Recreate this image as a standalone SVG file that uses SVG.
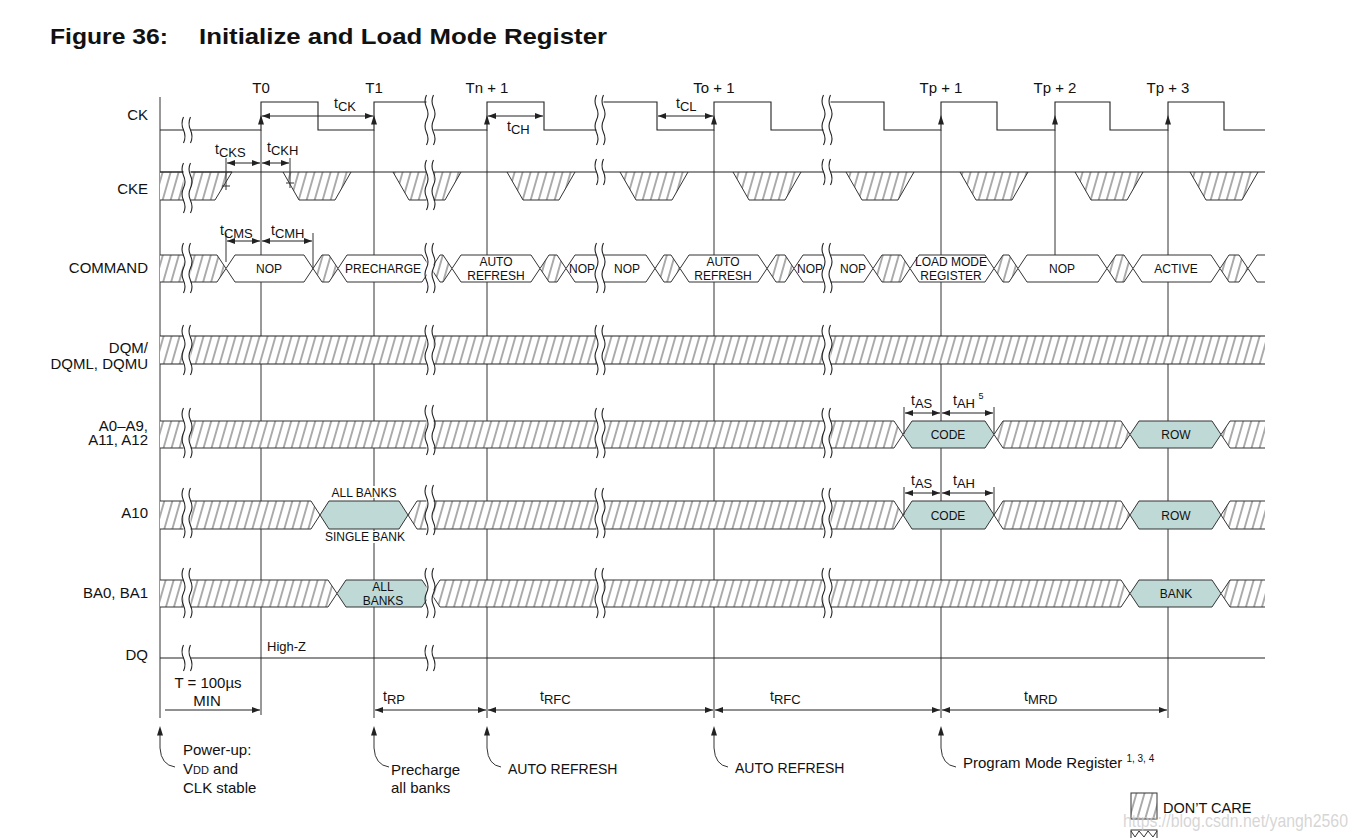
<svg xmlns="http://www.w3.org/2000/svg" width="1357" height="838" viewBox="0 0 1357 838">
<style>
text{font-family:"Liberation Sans",Arial,sans-serif;fill:#111}
.lbl{font-size:15px;text-anchor:end}
.clk{font-size:15px;text-anchor:middle}
.w{stroke:#222;stroke-width:1.1;fill:none}
.v{stroke:#333;stroke-width:1;fill:none}
.hx{fill:url(#h);stroke:#333;stroke-width:1}
.wh{fill:#fff;stroke:#333;stroke-width:1}
.tl{fill:#bfd9d6;stroke:#333;stroke-width:1}
.in{font-size:12px;text-anchor:middle}
.dim{stroke:#222;stroke-width:1;fill:none;marker-start:url(#ar);marker-end:url(#ar)}
.dimE{stroke:#222;stroke-width:1;fill:none;marker-end:url(#ar)}
.tm{font-size:14px}
.sb{font-size:13px}
.ann{font-size:15px}
.cap{font-size:14px}
</style>
<defs>
<pattern id="h" patternUnits="userSpaceOnUse" width="8" height="8" patternTransform="skewX(-16)">
<rect width="8" height="8" fill="#fff"/>
<line x1="4" y1="-1" x2="4" y2="9" stroke="#444" stroke-width="0.9"/>
</pattern>
<marker id="ar" viewBox="0 0 8 6" refX="8" refY="3" markerWidth="8" markerHeight="6" markerUnits="userSpaceOnUse" orient="auto-start-reverse">
<path d="M0,0 L8,3 L0,6 Z" fill="#222"/>
</marker>
<path id="up" d="M-3,9.5 L0,0 L3,9.5 Z" fill="#222"/>
<g id="b50"><rect x="-3.5" y="-25" width="7" height="50" fill="#fff"/><path d="M-3.5,-25 q-3,6.25 0,12.5 t0,12.5 t0,12.5 t0,12.5 M3.5,-25 q-3,6.25 0,12.5 t0,12.5 t0,12.5 t0,12.5" fill="none" stroke="#222" stroke-width="1.1"/></g>
<g id="b26"><rect x="-3.5" y="-13" width="7" height="26" fill="#fff"/><path d="M-3.5,-13 q-3,6.5 0,13 t0,13 M3.5,-13 q-3,6.5 0,13 t0,13" fill="none" stroke="#222" stroke-width="1.1"/></g>
</defs>

<rect width="1357" height="838" fill="#fff"/>

<g id="title">
<text x="50" y="44" font-size="22" font-weight="bold" textLength="118" lengthAdjust="spacingAndGlyphs">Figure 36:</text>
<text x="199" y="44" font-size="22" font-weight="bold" textLength="408" lengthAdjust="spacingAndGlyphs">Initialize and Load Mode Register</text>
</g>

<g id="gridlines" class="v">
<path d="M160,97 V718 M261,130 V715 M374,130 V718 M487,130 V718 M714,130 V718 M941,130 V718 M1055,130 V255 M1168,130 V718"/>
</g>

<g id="signal-labels">
<text class="lbl" x="148" y="119.5">CK</text>
<text class="lbl" x="148" y="193.5">CKE</text>
<text class="lbl" x="148" y="272.5">COMMAND</text>
<text class="lbl" x="148" y="352.5">DQM/</text>
<text class="lbl" x="148" y="369">DQML, DQMU</text>
<text class="lbl" x="148" y="430.5">A0–A9,</text>
<text class="lbl" x="148" y="445">A11, A12</text>
<text class="lbl" x="148" y="517.5">A10</text>
<text class="lbl" x="148" y="598">BA0, BA1</text>
<text class="lbl" x="148" y="659.5">DQ</text>
</g>

<g id="clock-labels">
<text class="clk" x="261" y="93">T0</text>
<text class="clk" x="374" y="93">T1</text>
<text class="clk" x="487" y="93">Tn + 1</text>
<text class="clk" x="714" y="93">To + 1</text>
<text class="clk" x="941" y="93">Tp + 1</text>
<text class="clk" x="1055" y="93">Tp + 2</text>
<text class="clk" x="1168" y="93">Tp + 3</text>
</g>

<g id="sig-ck">
<path class="w" d="M160,130 H261 V102 H318 V130 H374 V102 H431 M431,130 H487 V102 H544 V130 H600 M600,102 H657 V130 H714 V102 H771 V130 H827 M827,102 H884 V130 H941 V102 H997 V130 H1055 V102 H1110 V130 H1168 V102 H1224 V130 H1265"/>
<use href="#up" x="261" y="115"/>
<use href="#up" x="374" y="115"/>
<use href="#up" x="487" y="115"/>
<use href="#up" x="714" y="115"/>
<use href="#up" x="941" y="115"/>
<use href="#up" x="1055" y="115"/>
<use href="#up" x="1168" y="115"/>
</g>

<g id="sig-cke">
<path class="hx" d="M160,200 H215 L232,172 H160"/>
<path class="hx" d="M283,172 L299,200 H335 L351,172"/>
<path class="hx" d="M393,172 L409,200 H445 L461,172"/>
<path class="hx" d="M507,172 L523,200 H559 L575,172"/>
<path class="hx" d="M620,172 L636,200 H672 L688,172"/>
<path class="hx" d="M733,172 L749,200 H785 L801,172"/>
<path class="hx" d="M846,172 L862,200 H898 L914,172"/>
<path class="hx" d="M960,172 L976,200 H1012 L1028,172"/>
<path class="hx" d="M1075,172 L1091,200 H1127 L1143,172"/>
<path class="hx" d="M1190,172 L1206,200 H1242 L1258,172"/>
<path class="w" d="M160,172 H1265"/>
</g>

<g id="sig-command">
<path class="hx" d="M160,255 H217 L226,268.5 L217,282 H160"/>
<path class="wh" d="M226,268.5 L235,255 H304 L313,268.5 L304,282 H235 Z"/>
<path class="hx" d="M313,268.5 L322,255 H329 L338,268.5 L329,282 H322 Z"/>
<path class="wh" d="M338,268.5 L347,255 H422 L431,268.5 L422,282 H347 Z"/>
<path class="hx" d="M431,268.5 L440,255 H443 L452,268.5 L443,282 H440 Z"/>
<path class="wh" d="M452,268.5 L461,255 H531 L540,268.5 L531,282 H461 Z"/>
<path class="hx" d="M540,268.5 L549,255 H557 L566,268.5 L557,282 H549 Z"/>
<path class="wh" d="M566,268.5 L575,255 H646 L655,268.5 L646,282 H575 Z"/>
<path class="hx" d="M655,268.5 L664,255 H671 L680,268.5 L671,282 H664 Z"/>
<path class="wh" d="M680,268.5 L689,255 H758 L767,268.5 L758,282 H689 Z"/>
<path class="hx" d="M767,268.5 L776,255 H785 L794,268.5 L785,282 H776 Z"/>
<path class="wh" d="M794,268.5 L803,255 H864 L873,268.5 L864,282 H803 Z"/>
<path class="hx" d="M873,268.5 L882,255 H901 L910,268.5 L901,282 H882 Z"/>
<path class="wh" d="M910,268.5 L919,255 H985 L994,268.5 L985,282 H919 Z"/>
<path class="hx" d="M994,268.5 L1003,255 H1009 L1018,268.5 L1009,282 H1003 Z"/>
<path class="wh" d="M1018,268.5 L1027,255 H1098 L1107,268.5 L1098,282 H1027 Z"/>
<path class="hx" d="M1107,268.5 L1116,255 H1124 L1133,268.5 L1124,282 H1116 Z"/>
<path class="wh" d="M1133,268.5 L1142,255 H1211 L1220,268.5 L1211,282 H1142 Z"/>
<path class="hx" d="M1220,268.5 L1229,255 H1239 L1248,268.5 L1239,282 H1229 Z"/>
<path class="wh" d="M1265,255 H1257 L1248,268.5 L1257,282 H1265"/>
<text class="in" x="269" y="273">NOP</text>
<text class="in" x="383" y="273" font-size="11">PRECHARGE</text>
<text class="in" x="496" y="266">AUTO</text>
<text class="in" x="496" y="279.5">REFRESH</text>
<text class="in" x="582" y="273">NOP</text>
<text class="in" x="627" y="273">NOP</text>
<text class="in" x="723" y="266">AUTO</text>
<text class="in" x="723" y="279.5">REFRESH</text>
<text class="in" x="810" y="273">NOP</text>
<text class="in" x="853" y="273">NOP</text>
<text class="in" x="951" y="266">LOAD MODE</text>
<text class="in" x="951" y="279.5">REGISTER</text>
<text class="in" x="1062" y="273">NOP</text>
<text class="in" x="1176" y="273">ACTIVE</text>
</g>

<g id="sig-dqm">
<rect x="160" y="336" width="1105" height="28" fill="url(#h)"/>
<path class="w" d="M160,336 H1265 M160,364 H1265"/>
</g>

<g id="sig-a0-a9">
<path class="hx" d="M160,421 H894 L903,434.5 L894,448 H160"/>
<path class="tl" d="M903,434.5 L912,421 H985 L994,434.5 L985,448 H912 Z"/>
<path class="hx" d="M994,434.5 L1003,421 H1121 L1130,434.5 L1121,448 H1003 Z"/>
<path class="tl" d="M1130,434.5 L1139,421 H1212 L1221,434.5 L1212,448 H1139 Z"/>
<path class="hx" d="M1265,421 H1230 L1221,434.5 L1230,448 H1265"/>
<text class="in" x="948" y="439">CODE</text>
<text class="in" x="1176" y="439">ROW</text>
</g>

<g id="sig-a10">
<path class="hx" d="M160,501 H311 L320,515 L311,529 H160"/>
<path class="tl" d="M320,515 L329,501 H399 L408,515 L399,529 H329 Z"/>
<path class="hx" d="M408,515 L417,501 H894 L903,515 L894,529 H417 Z"/>
<path class="tl" d="M903,515 L912,501 H985 L994,515 L985,529 H912 Z"/>
<path class="hx" d="M994,515 L1003,501 H1121 L1130,515 L1121,529 H1003 Z"/>
<path class="tl" d="M1130,515 L1139,501 H1212 L1221,515 L1212,529 H1139 Z"/>
<path class="hx" d="M1265,501 H1230 L1221,515 L1230,529 H1265"/>
<rect x="329" y="486" width="68" height="12" fill="#fff"/>
<rect x="322" y="531" width="85" height="12" fill="#fff"/>
<text class="in" x="364" y="496.5">ALL BANKS</text>
<text class="in" x="365" y="540.5">SINGLE BANK</text>
<text class="in" x="948" y="519.5">CODE</text>
<text class="in" x="1176" y="519.5">ROW</text>
</g>

<g id="sig-ba">
<path class="hx" d="M160,580 H328 L337,593.5 L328,607 H160"/>
<path class="tl" d="M337,593.5 L346,580 H422 L431,593.5 L422,607 H346 Z"/>
<path class="hx" d="M431,593.5 L440,580 H1121 L1130,593.5 L1121,607 H440 Z"/>
<path class="tl" d="M1130,593.5 L1139,580 H1212 L1221,593.5 L1212,607 H1139 Z"/>
<path class="hx" d="M1265,580 H1230 L1221,593.5 L1230,607 H1265"/>
<text class="in" x="383" y="591" font-size="11.5">ALL</text>
<text class="in" x="383" y="605" font-size="11.5">BANKS</text>
<text class="in" x="1176" y="598">BANK</text>
</g>

<g id="sig-dq">
<path class="w" d="M160,658 H1265"/>
<text x="267" y="651" font-size="13">High-Z</text>
</g>

<g id="breaks">
<use href="#b26" x="187" y="130"/>
<use href="#b50" x="430" y="120"/>
<use href="#b50" x="600" y="120"/>
<use href="#b50" x="827" y="120"/>
<use href="#b50" x="187" y="188"/>
<use href="#b50" x="430" y="185"/>
<use href="#b26" x="600" y="172"/>
<use href="#b26" x="827" y="172"/>
<use href="#b50" x="187" y="268"/>
<use href="#b50" x="430" y="268"/>
<use href="#b50" x="600" y="268"/>
<use href="#b50" x="827" y="268"/>
<use href="#b50" x="187" y="350"/>
<use href="#b50" x="430" y="350"/>
<use href="#b50" x="600" y="350"/>
<use href="#b50" x="827" y="350"/>
<use href="#b50" x="187" y="433"/>
<use href="#b50" x="430" y="430"/>
<use href="#b50" x="600" y="433"/>
<use href="#b50" x="827" y="433"/>
<use href="#b50" x="187" y="513"/>
<use href="#b50" x="430" y="510"/>
<use href="#b50" x="600" y="513"/>
<use href="#b50" x="827" y="513"/>
<use href="#b50" x="187" y="593"/>
<use href="#b50" x="430" y="593"/>
<use href="#b50" x="600" y="593"/>
<use href="#b50" x="827" y="593"/>
<use href="#b26" x="187" y="658"/>
<use href="#b26" x="430" y="658"/>
</g>

<g id="connectors">
<path class="v" d="M226,158 V190 M222,186 H230 M290,158 V188 M286,183 H294 M226,233 V262 M313,233 V269 M904,407 V434 M994,407 V434 M904,487 V515 M994,487 V515"/>
<path class="dim" d="M262,116 H373"/>
<path class="dim" d="M488,116 H543"/>
<path class="dim" d="M658,116 H713"/>
<path class="dim" d="M227,163 H260"/>
<path class="dim" d="M262,163 H289"/>
<path class="dim" d="M227,241 H260"/>
<path class="dim" d="M262,241 H312"/>
<path class="dim" d="M905,413 H940"/>
<path class="dim" d="M942,413 H993"/>
<path class="dim" d="M905,493 H940"/>
<path class="dim" d="M942,493 H993"/>
<path class="dimE" d="M165,710 H260"/>
<path class="dim" d="M375,710 H486"/>
<path class="dim" d="M488,710 H713"/>
<path class="dim" d="M715,710 H940"/>
<path class="dim" d="M942,710 H1167"/>
<path class="v" d="M160,735 V748 Q161,765 175,767 M374,735 V748 Q375,765 389,767 M487,735 V748 Q488,765 501,767 M714,735 V748 Q715,765 728,767 M941,735 V748 Q942,765 956,767"/>
<use href="#up" x="160" y="726"/>
<use href="#up" x="374" y="726"/>
<use href="#up" x="487" y="726"/>
<use href="#up" x="714" y="726"/>
<use href="#up" x="941" y="726"/>
</g>

<g id="timing-labels">
<text class="tm" x="334" y="108">t<tspan class="sb" dy="3">CK</tspan></text>
<text class="tm" x="507" y="131">t<tspan class="sb" dy="3">CH</tspan></text>
<text class="tm" x="676" y="108">t<tspan class="sb" dy="3">CL</tspan></text>
<text class="tm" x="215" y="154">t<tspan class="sb" dy="3">CKS</tspan></text>
<text class="tm" x="267" y="152">t<tspan class="sb" dy="3">CKH</tspan></text>
<text class="tm" x="220" y="235">t<tspan class="sb" dy="3">CMS</tspan></text>
<text class="tm" x="271" y="235">t<tspan class="sb" dy="3">CMH</tspan></text>
<text class="tm" x="911" y="405">t<tspan class="sb" dy="3">AS</tspan></text>
<text class="tm" x="953" y="405">t<tspan class="sb" dy="3">AH </tspan><tspan font-size="9" dy="-9">5</tspan></text>
<text class="tm" x="911" y="485">t<tspan class="sb" dy="3">AS</tspan></text>
<text class="tm" x="953" y="485">t<tspan class="sb" dy="3">AH</tspan></text>
<text class="ann" x="208" y="688" text-anchor="middle">T = 100µs</text>
<text class="ann" x="207" y="706" text-anchor="middle">MIN</text>
<text class="tm" x="383" y="701">t<tspan class="sb" dy="3">RP</tspan></text>
<text class="tm" x="540" y="701">t<tspan class="sb" dy="3">RFC</tspan></text>
<text class="tm" x="770" y="701">t<tspan class="sb" dy="3">RFC</tspan></text>
<text class="tm" x="1024" y="701">t<tspan class="sb" dy="3">MRD</tspan></text>
</g>

<g id="annotations">
<text class="ann" x="183" y="755">Power-up:</text>
<text class="ann" x="183" y="774">V<tspan font-size="11">DD</tspan> and</text>
<text class="ann" x="183" y="793">CLK stable</text>
<text class="ann" x="391" y="775">Precharge</text>
<text class="ann" x="391" y="793">all banks</text>
<text class="cap" x="508" y="774">AUTO REFRESH</text>
<text class="cap" x="735" y="773">AUTO REFRESH</text>
<text class="ann" x="963" y="768">Program Mode Register <tspan font-size="10" dy="-6">1, 3, 4</tspan></text>
</g>

<g id="legend">
<rect x="1131" y="793" width="26" height="26" fill="url(#h)" stroke="#333"/>
<text x="1163" y="813" font-size="14.5">DON’T CARE</text>
<rect x="1131" y="830" width="26" height="20" fill="#fff" stroke="#333"/>
<polyline points="1131,831 1135,837 1139,831 1144,837 1148,831 1153,837 1157,831" fill="none" stroke="#333"/>
<text x="1123" y="827" font-size="19" fill="#c8c8c8" fill-opacity="0.75" style="fill:#c8c8c8" textLength="225" lengthAdjust="spacingAndGlyphs">https://blog.csdn.net/yangh2560</text>
</g>
</svg>
